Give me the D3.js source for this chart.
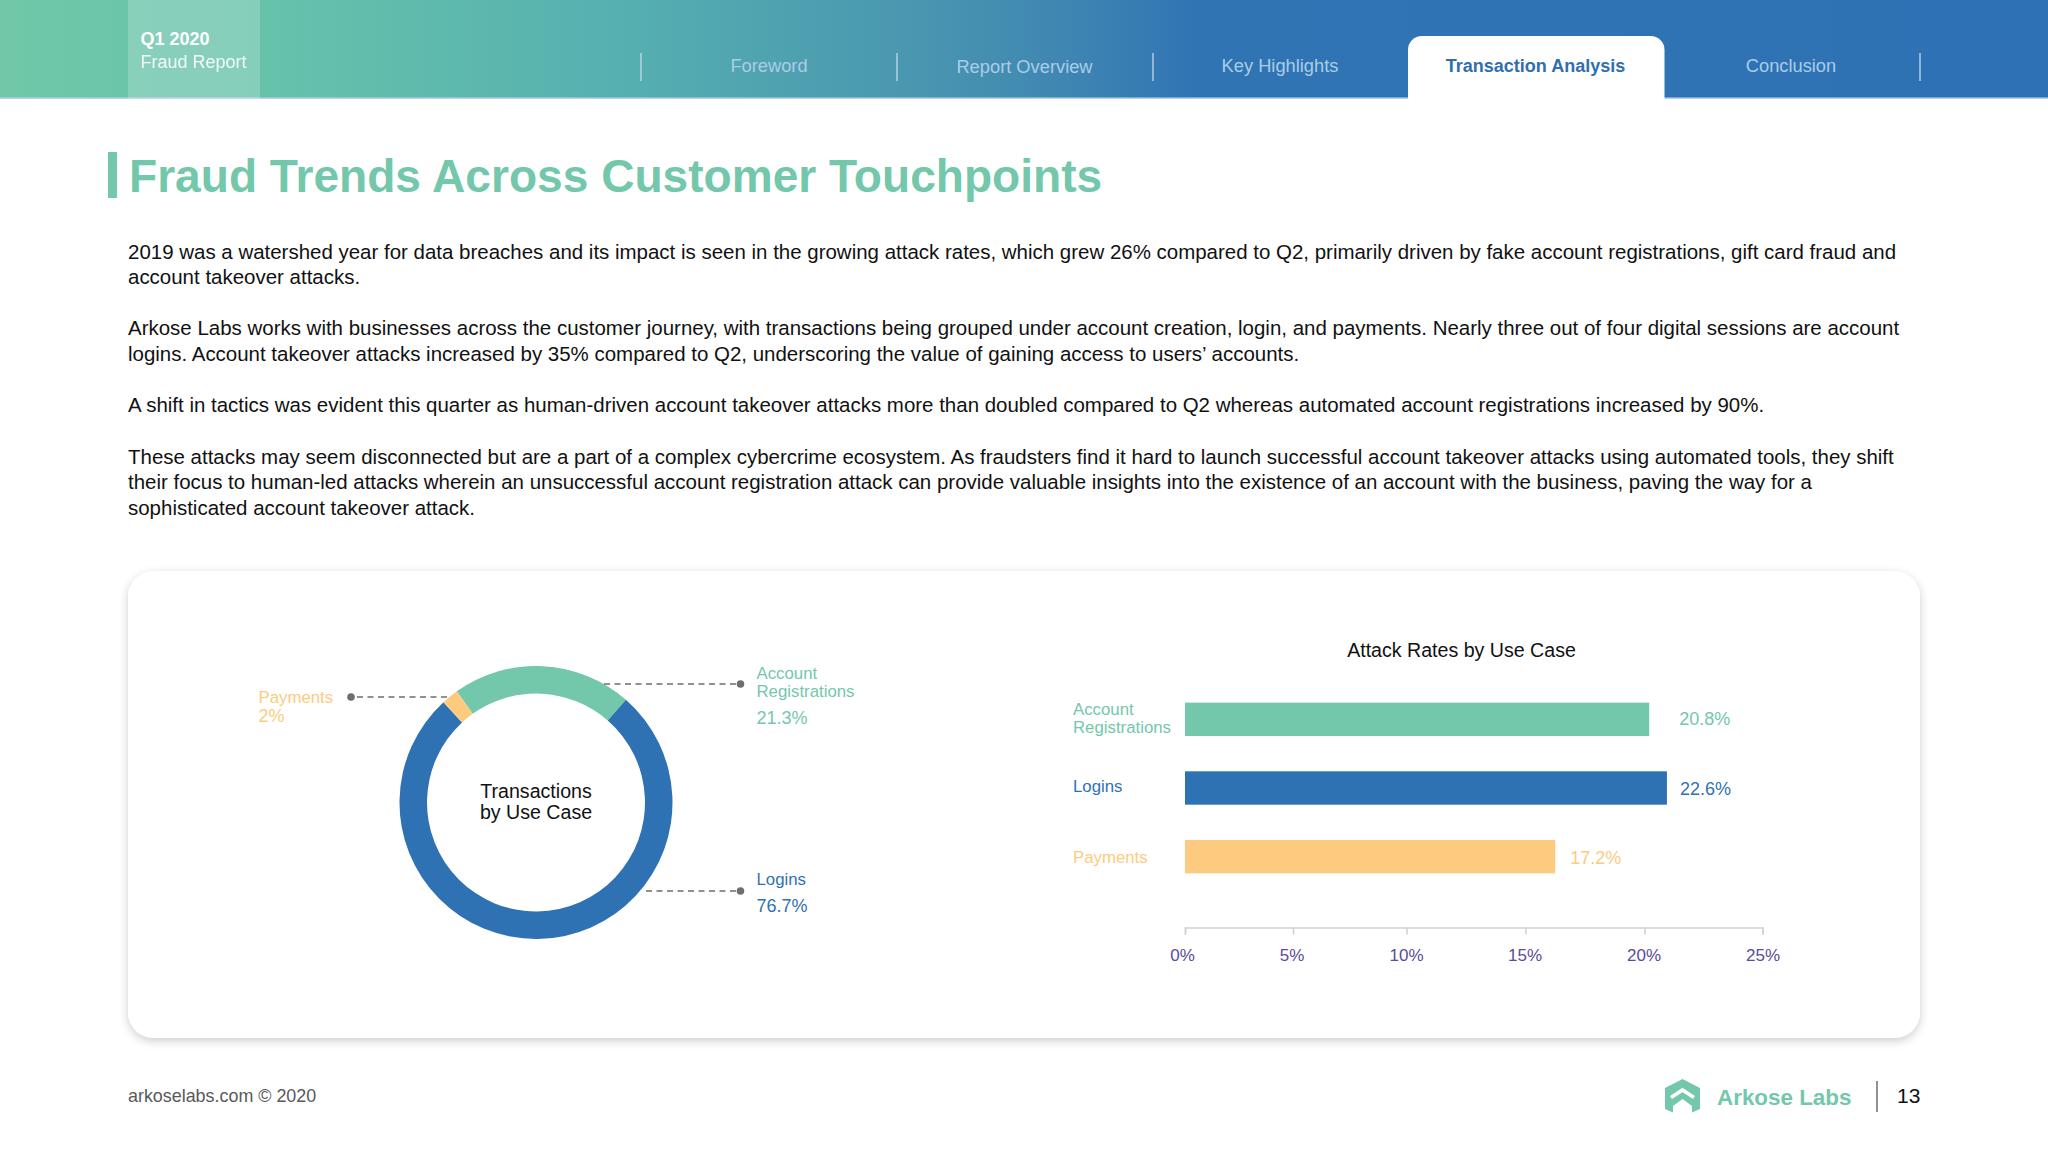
<!DOCTYPE html>
<html><head><meta charset="utf-8">
<script src="https://cdn.jsdelivr.net/npm/d3@7"></script>
<style>
html,body{margin:0;padding:0;background:#fff}
svg{display:block}
text{font-family:"Liberation Sans",Arial,sans-serif}
</style></head><body>
<script>
// ---- data ----
const navTabs = ["Foreword","Report Overview","Key Highlights","Transaction Analysis","Conclusion"];
const activeTab = "Transaction Analysis";
const reportLines = ["Q1 2020","Fraud Report"];
const pageTitle = "Fraud Trends Across Customer Touchpoints";
const bodyLines = [
 "2019 was a watershed year for data breaches and its impact is seen in the growing attack rates, which grew 26% compared to Q2, primarily driven by fake account registrations, gift card fraud and",
 "account takeover attacks.",
 "Arkose Labs works with businesses across the customer journey, with transactions being grouped under account creation, login, and payments. Nearly three out of four digital sessions are account",
 "logins. Account takeover attacks increased by 35% compared to Q2, underscoring the value of gaining access to users’ accounts.",
 "A shift in tactics was evident this quarter as human-driven account takeover attacks more than doubled compared to Q2 whereas automated account registrations increased by 90%.",
 "These attacks may seem disconnected but are a part of a complex cybercrime ecosystem. As fraudsters find it hard to launch successful account takeover attacks using automated tools, they shift",
 "their focus to human-led attacks wherein an unsuccessful account registration attack can provide valuable insights into the existence of an account with the business, paving the way for a",
 "sophisticated account takeover attack."
];
const bodyBaselines = [258.5,284,335,361,412,463.5,489,514.5];
const useCases = ["Account Registrations","Logins","Payments"];
const useCaseColors = ["#73c7ab","#2f72b3","#fdcb80"];
const transactionShare = [21.3,76.7,2];
const attackRates = [20.8,22.6,17.2];            // printed value labels
const barLengthsOnAxis = [20.2,20.95,16.25];     // where each bar ends when read against the axis
const axisTicks = [0,5,10,15,20,25];
const axisTickPositions = [1185,1293,1406.5,1525.5,1644.5,1762.5];

// ---- page ----
const W=2048,H=1152;
const svg=d3.select("body").append("svg").attr("width",W).attr("height",H).attr("viewBox",`0 0 ${W} ${H}`);
const defs=svg.append("defs");
const grad=defs.append("linearGradient").attr("id","hdr").attr("x1",0).attr("x2",1).attr("y1",0).attr("y2",0);
[[0,"#70c8a8"],[0.13,"#67c2ab"],[0.3,"#56b0b0"],[0.44,"#4a98b0"],[0.52,"#3f86b2"],[0.585,"#3074b4"],[1,"#2e72b5"]]
 .forEach(s=>grad.append("stop").attr("offset",s[0]).attr("stop-color",s[1]));
const sh=defs.append("filter").attr("id","sh").attr("x","-5%").attr("y","-5%").attr("width","110%").attr("height","112%");
sh.append("feDropShadow").attr("dx",0).attr("dy",3).attr("stdDeviation",5).attr("flood-color","#000").attr("flood-opacity",0.2);

// header
svg.append("rect").attr("width",W).attr("height",98.5).attr("fill","url(#hdr)");
svg.append("rect").attr("y",97.5).attr("width",W).attr("height",1.5).attr("fill","#b9d5ec");
svg.append("rect").attr("x",128).attr("width",132).attr("height",99).attr("fill","#fff").attr("opacity",0.2);
svg.selectAll("text.rep").data(reportLines).join("text").attr("class","rep")
  .attr("x",140.5).attr("y",(d,i)=>i?68:45).attr("fill","#fff").attr("font-size",18)
  .attr("font-weight",(d,i)=>i?400:700).attr("opacity",(d,i)=>i?0.9:1).text(d=>d);
const tabX=d3.scalePoint().domain(navTabs).range([769,1791]);
svg.append("path").attr("d",`M1408 99V50a14 14 0 0 1 14-14h228.5a14 14 0 0 1 14 14V99Z`).attr("fill","#fff");
svg.selectAll("line.sep").data([641,897,1153,1920]).join("line").attr("class","sep")
  .attr("x1",d=>d).attr("x2",d=>d).attr("y1",53).attr("y2",81).attr("stroke","#c4dcee").attr("stroke-width",1.5).attr("opacity",0.85);
svg.selectAll("text.tab").data(navTabs).join("text").attr("class","tab")
  .attr("x",d=>tabX(d)).attr("y",(d,i)=>i==1?73:72).attr("text-anchor","middle")
  .attr("font-size",d=>d==activeTab?18:18.3)
  .attr("font-weight",d=>d==activeTab?700:400).attr("fill",d=>d==activeTab?"#2f6fb0":"#a9cde8").text(d=>d);

// title and copy
svg.append("rect").attr("x",108).attr("y",152).attr("width",9).attr("height",46).attr("fill","#73c7ab");
svg.append("text").attr("x",129).attr("y",192).attr("font-size",46.1).attr("font-weight",700).attr("fill","#73c7ab").text(pageTitle);
svg.selectAll("text.body").data(bodyLines).join("text").attr("class","body")
  .attr("x",128).attr("y",(d,i)=>bodyBaselines[i]).attr("font-size",20.48).attr("fill","#111").text(d=>d);

// card
svg.append("rect").attr("x",128).attr("y",571).attr("width",1792).attr("height",467).attr("rx",26).attr("fill","#fff").attr("filter","url(#sh)");

// donut
const cx=536,cy=802.5,rOuter=136.5,rInner=109;
const rad=Math.PI/180;
const pie=d3.pie().sort(null).startAngle(-35.5*rad).endAngle(324.5*rad);
const arc=d3.arc().innerRadius(rInner).outerRadius(rOuter);
const donut=svg.append("g").attr("transform",`translate(${cx},${cy})`);
donut.selectAll("path").data(pie(transactionShare)).join("path").attr("d",arc).attr("fill",(d,i)=>useCaseColors[i]);
donut.selectAll("text").data(["Transactions","by Use Case"]).join("text")
  .attr("text-anchor","middle").attr("y",(d,i)=>i?16.2:-4.3).attr("font-size",19.6).attr("fill","#111").text(d=>d);

// donut leaders
const leaders=[
 {x1:604,x2:740.5,y:684},
 {x1:646,x2:740.5,y:891},
 {x1:447,x2:351,y:697}];
const lg=svg.append("g");
lg.selectAll("line").data(leaders).join("line").attr("x1",d=>d.x1).attr("x2",d=>d.x2).attr("y1",d=>d.y).attr("y2",d=>d.y)
  .attr("stroke","#6d6e71").attr("stroke-width",1.4).attr("stroke-dasharray","6 4.5");
lg.selectAll("circle").data(leaders).join("circle").attr("cx",d=>d.x2).attr("cy",d=>d.y).attr("r",3.8).attr("fill","#6d6e71");
const donutLabels=[
 {t:"Account",x:756.5,y:679,c:0,s:16.8},{t:"Registrations",x:756.5,y:697,c:0,s:16.8},{t:transactionShare[0]+"%",x:756.5,y:724,c:0,s:18},
 {t:"Logins",x:756.5,y:885,c:1,s:16.8},{t:transactionShare[1]+"%",x:756.5,y:912,c:1,s:18},
 {t:"Payments",x:258.5,y:703,c:2,s:16.8},{t:transactionShare[2]+"%",x:258.5,y:722,c:2,s:18}];
svg.selectAll("text.dl").data(donutLabels).join("text").attr("class","dl").attr("x",d=>d.x).attr("y",d=>d.y)
  .attr("font-size",d=>d.s).attr("fill",d=>useCaseColors[d.c]).text(d=>d.t);

// bars
const x=d3.scaleLinear().domain(axisTicks).range(axisTickPositions);
const y=d3.scaleBand().domain(useCases).range([685,891]).paddingInner(0.514).paddingOuter(0.257);
svg.append("text").attr("x",1461.5).attr("y",657).attr("text-anchor","middle").attr("font-size",19.6).attr("fill","#111").text("Attack Rates by Use Case");
svg.selectAll("rect.bar").data(useCases).join("rect").attr("class","bar")
  .attr("x",x(0)).attr("y",d=>y(d)).attr("height",y.bandwidth())
  .attr("width",(d,i)=>x(barLengthsOnAxis[i])-x(0)).attr("fill",(d,i)=>useCaseColors[i]);
const valueGap=[30,13,15];
const valueDy=[6,7,7];
svg.selectAll("text.val").data(useCases).join("text").attr("class","val")
  .attr("x",(d,i)=>x(barLengthsOnAxis[i])+valueGap[i]).attr("y",(d,i)=>y(d)+y.bandwidth()/2+valueDy[i])
  .attr("font-size",18).attr("fill",(d,i)=>useCaseColors[i]).text((d,i)=>attackRates[i]+"%");
const catLines=[["Account","Registrations"],["Logins"],["Payments"]];
const catY=[[715,733],[792],[863]];
catLines.forEach((ls,i)=>ls.forEach((t,j)=>svg.append("text").attr("x",1073).attr("y",catY[i][j])
  .attr("font-size",16.8).attr("fill",useCaseColors[i]).text(t)));
const axis=svg.append("g").attr("transform","translate(0,927.5)")
  .call(d3.axisBottom(x).tickValues(axisTicks).tickFormat(d=>d+"%").tickSize(7).tickPadding(14));
axis.select(".domain").attr("stroke","#cfcfd6").attr("stroke-width",1.5);
axis.selectAll(".tick line").attr("stroke","#cfcfd6").attr("stroke-width",1.5);
const tickLabelDx=[-3,-1.5,-0.5,-1,-1,0];
axis.selectAll(".tick text").attr("fill","#5b4b9a").attr("font-size",17).attr("font-family",'"Liberation Sans"')
  .attr("dx",(d,i)=>tickLabelDx[i]);

// footer
svg.append("text").attr("x",128).attr("y",1102).attr("font-size",17.9).attr("fill","#58595b").text("arkoselabs.com © 2020");
const logo=svg.append("g");
logo.append("path").attr("d","M1665 1088L1682.5 1079L1700 1088V1109L1692 1112.5V1106L1682.5 1099L1673 1106V1112.5L1665 1109Z").attr("fill","#73c7ab");
logo.append("path").attr("d","M1671 1097.5L1682.5 1090L1694 1097.5").attr("fill","none").attr("stroke","#fff").attr("stroke-width",3.6);
svg.append("text").attr("x",1717).attr("y",1104.5).attr("font-family","Lato").attr("font-weight",700).attr("font-size",22.4).attr("fill","#73c7ab").text("Arkose Labs");
svg.append("line").attr("x1",1877).attr("x2",1877).attr("y1",1081).attr("y2",1112).attr("stroke","#6d6e71").attr("stroke-width",1.5);
svg.append("text").attr("x",1897).attr("y",1103).attr("font-size",21).attr("fill","#111").text("13");
</script>
</body></html>
